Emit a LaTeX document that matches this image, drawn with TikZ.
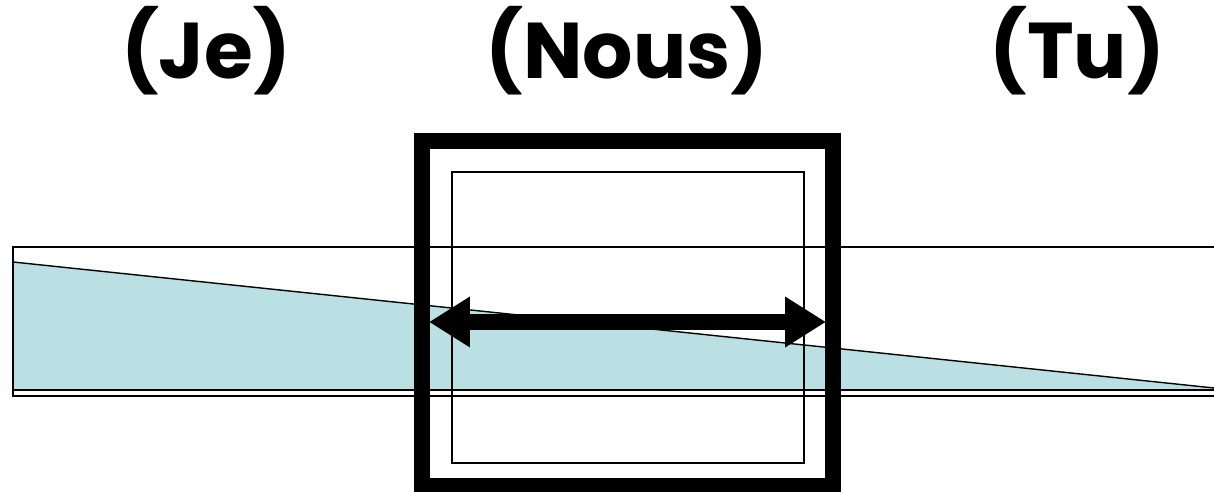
\documentclass[tikz,border=0pt]{standalone}
\usepackage{fontspec}
\setmainfont{Poppins}
\usetikzlibrary{arrows.meta}
\definecolor{bandblue}{HTML}{BBE0E3}
\tikzset{
  pronoun/.style={anchor=base, font=\fontsize{45}{52}\selectfont\bfseries},
  thinline/.style={line width=0.8pt},
  frameline/.style={line width=9pt},
  bigarrow/.style={line width=9.5pt, {Triangle[length=0.82cm,width=0.96cm]}-{Triangle[length=0.82cm,width=0.96cm]}}
}
\begin{document}
\begin{tikzpicture}[x=0.02cm,y=-0.02cm]
\useasboundingbox (0,0) rectangle (1214,492);
\def\bandleft{13}
\def\bandright{1216}
\def\bandtop{247}
\def\bandbottom{396}
\def\waterline{390}

% pronouns
\node[pronoun] (je) at (206,79) {(Je)};
\node[pronoun] (nous) at (627,79) {(Nous)};
\node[pronoun] (tu) at (1077,79) {(Tu)};

% band with the slope
\fill[bandblue] (\bandleft,262) -- (1214,388) -- (1214,\waterline) -- (\bandleft,\waterline) -- cycle;
\draw[thinline] (\bandleft,262) -- (1214,388);
\draw[thinline] (\bandright,\bandtop) -- (\bandleft,\bandtop) -- (\bandleft,\bandbottom) -- (\bandright,\bandbottom);
\draw[thinline] (\bandleft,\waterline) -- (\bandright,\waterline);

% frames
\draw[thinline] (452,172) rectangle (804,463);
\draw[frameline] (422,141) rectangle (833,486);

% arrow
\coordinate (arrowL) at (429,322);
\coordinate (arrowR) at (826,322);
\draw[bigarrow] (arrowL) -- (arrowR);
\end{tikzpicture}
\end{document}
